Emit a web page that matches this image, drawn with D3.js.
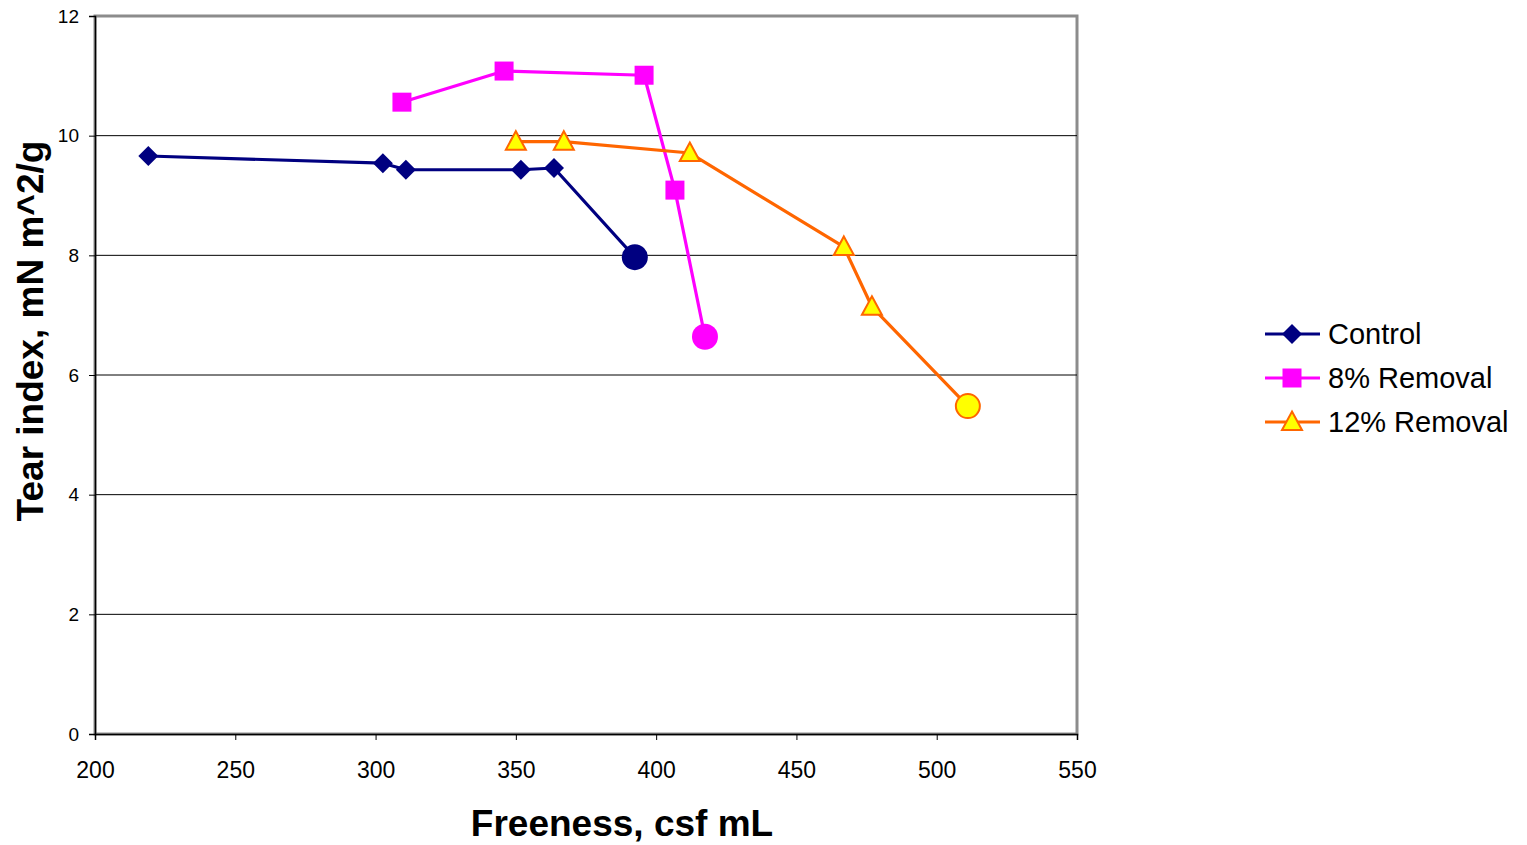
<!DOCTYPE html>
<html>
<head>
<meta charset="utf-8">
<script src="https://cdn.jsdelivr.net/npm/d3@7"></script>
<style>
  html, body { margin: 0; padding: 0; background: #fff; }
  svg { display: block; font-family: "Liberation Sans", Arial, sans-serif; }
</style>
</head>
<body>
<svg id="chart" width="1527" height="845"></svg>
<script>
// Tear index vs. freeness for three pulp treatments
const seriesNames = ["Control", "8% Removal", "12% Removal"];
const controlFreeness = [219, 302.6, 310.8, 351.8, 363.6, 392.4];
const controlTear     = [9.66, 9.54, 9.43, 9.43, 9.46, 7.97];
const removal8Freeness = [309.4, 345.8, 395.7, 406.7, 417.4];
const removal8Tear     = [10.56, 11.08, 11.01, 9.09, 6.64];
const removal12Freeness = [350.0, 367.1, 412.0, 466.9, 476.9, 511.1];
const removal12Tear     = [9.9, 9.9, 9.71, 8.14, 7.14, 5.48];
const xTicks = [200, 250, 300, 350, 400, 450, 500, 550];
const yTicks = [0, 2, 4, 6, 8, 10, 12];

const svg = d3.select("#chart");
const plot = { left: 95, top: 16, right: 1077, bottom: 734 };

const x = d3.scaleLinear().domain([200, 550]).range([plot.left, plot.right]);
const y = d3.scaleLinear().domain([0, 12]).range([plot.bottom, plot.top]);

const series = [
  { name: seriesNames[0], xs: controlFreeness, ys: controlTear, line: "#000080", fill: "#000080", stroke: "#000080", shape: "diamond", endFill: "#000080", endStroke: "#000080" },
  { name: seriesNames[1], xs: removal8Freeness, ys: removal8Tear, line: "#FF00FF", fill: "#FF00FF", stroke: "#FF00FF", shape: "square", endFill: "#FF00FF", endStroke: "#FF00FF" },
  { name: seriesNames[2], xs: removal12Freeness, ys: removal12Tear, line: "#FF6600", fill: "#FFFF00", stroke: "#FF6600", shape: "triangle", endFill: "#FFFF00", endStroke: "#FF6600" }
];

// plot frame (grey border)
svg.append("rect")
  .attr("x", plot.left).attr("y", plot.top)
  .attr("width", plot.right - plot.left).attr("height", plot.bottom - plot.top)
  .attr("fill", "#fff").attr("stroke", "#8c8c8c").attr("stroke-width", 3);

// horizontal gridlines
svg.append("g").selectAll("line")
  .data(yTicks.filter(v => v > 0 && v < 12))
  .join("line")
  .attr("x1", plot.left).attr("x2", plot.right)
  .attr("y1", d => y(d)).attr("y2", d => y(d))
  .attr("stroke", "#000").attr("stroke-width", 1);

// y axis
const yAxis = svg.append("g")
  .attr("transform", `translate(${plot.left},0)`)
  .call(d3.axisLeft(y).tickValues(yTicks).tickSize(6).tickPadding(10).tickFormat(d3.format("d")));
yAxis.select(".domain").attr("stroke", "#000").attr("stroke-width", 1.5);
yAxis.selectAll(".tick line").attr("stroke", "#000");
yAxis.selectAll("text").attr("font-size", 19).attr("fill", "#000")
  .attr("font-family", "Liberation Sans, Arial, sans-serif");

// x axis
const xAxis = svg.append("g")
  .attr("transform", `translate(0,${plot.bottom})`)
  .call(d3.axisBottom(x).tickValues(xTicks).tickSize(6).tickPadding(22).tickFormat(d3.format("d")));
xAxis.select(".domain").attr("stroke", "#000").attr("stroke-width", 1.5);
xAxis.selectAll(".tick line").attr("stroke", "#000");
xAxis.selectAll("text").attr("font-size", 23).attr("fill", "#000")
  .attr("font-family", "Liberation Sans, Arial, sans-serif");

// axis titles
svg.append("text")
  .attr("x", 622).attr("y", 836)
  .attr("text-anchor", "middle")
  .attr("font-size", 37).attr("font-weight", "bold")
  .text("Freeness, csf mL");

svg.append("text")
  .attr("transform", "translate(43,331) rotate(-90)")
  .attr("text-anchor", "middle")
  .attr("font-size", 37).attr("font-weight", "bold")
  .text("Tear index, mN m^2/g");

function markerPath(shape) {
  if (shape === "diamond") return "M0,-10L10,0L0,10L-10,0Z";
  if (shape === "square") return "M-9.5,-9.5H9.5V9.5H-9.5Z";
  return "M0,-10.5L10,8L-10,8Z";
}

const line = d3.line().x(d => x(d[0])).y(d => y(d[1]));

series.forEach(s => {
  const pts = s.xs.map((v, i) => [v, s.ys[i]]);
  const g = svg.append("g");
  g.append("path").datum(pts)
    .attr("d", line)
    .attr("fill", "none").attr("stroke", s.line).attr("stroke-width", 3.2)
    .attr("stroke-linejoin", "round");
  const n = pts.length;
  g.selectAll(".pt").data(pts.slice(0, n - 1)).join("path")
    .attr("class", "pt")
    .attr("transform", d => `translate(${x(d[0])},${y(d[1])})`)
    .attr("d", markerPath(s.shape))
    .attr("fill", s.fill).attr("stroke", s.stroke)
    .attr("stroke-width", s.shape === "triangle" ? 2 : 0);
  // final point drawn as a large circle
  g.append("circle")
    .attr("cx", x(pts[n - 1][0])).attr("cy", y(pts[n - 1][1]))
    .attr("r", s.shape === "triangle" ? 12 : 13)
    .attr("fill", s.endFill).attr("stroke", s.endStroke)
    .attr("stroke-width", s.shape === "triangle" ? 2 : 0);
});

// legend
const legend = svg.append("g");
series.forEach((s, i) => {
  const cy = 334 + i * 44;
  legend.append("line")
    .attr("x1", 1265).attr("x2", 1320).attr("y1", cy).attr("y2", cy)
    .attr("stroke", s.line).attr("stroke-width", 3.2);
  legend.append("path")
    .attr("transform", `translate(1292,${cy})`)
    .attr("d", markerPath(s.shape))
    .attr("fill", s.fill).attr("stroke", s.stroke)
    .attr("stroke-width", s.shape === "triangle" ? 2 : 0);
  legend.append("text")
    .attr("x", 1328).attr("y", cy + 10)
    .attr("font-size", 29).attr("fill", "#000")
    .text(s.name);
});
</script>
</body>
</html>
